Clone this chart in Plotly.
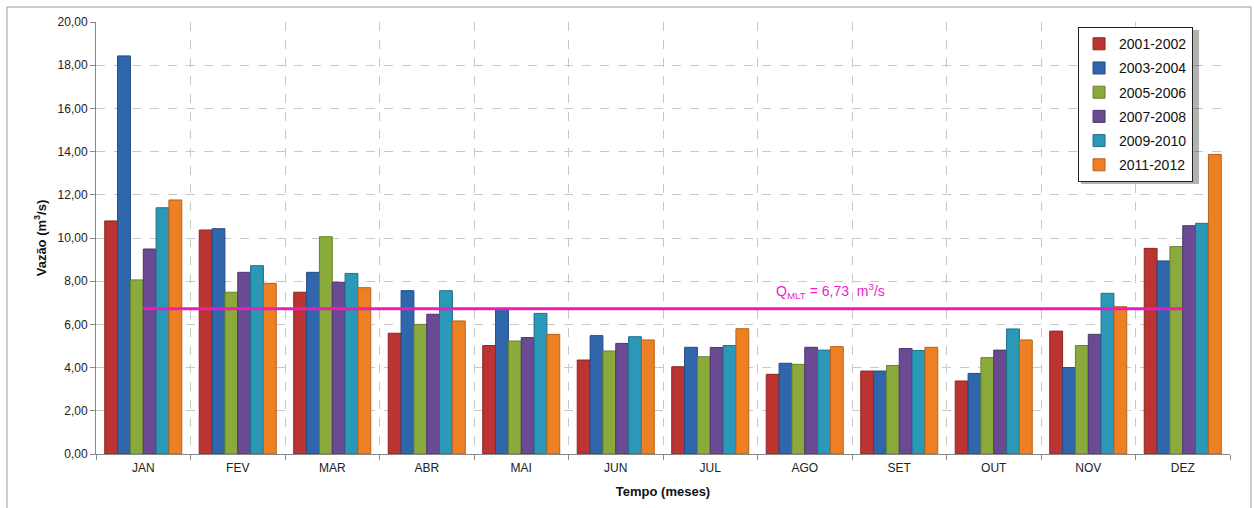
import plotly.graph_objects as go

months = ["JAN", "FEV", "MAR", "ABR", "MAI", "JUN", "JUL", "AGO", "SET", "OUT", "NOV", "DEZ"]
series_names = ["2001-2002", "2003-2004", "2005-2006", "2007-2008", "2009-2010", "2011-2012"]

v_2001_2002 = [10.79, 10.37, 7.49, 5.59, 5.02, 4.35, 4.04, 3.69, 3.84, 3.38, 5.69, 9.52]
v_2003_2004 = [18.43, 10.43, 8.41, 7.56, 6.70, 5.48, 4.94, 4.20, 3.84, 3.73, 4.00, 8.94]
v_2005_2006 = [8.06, 7.49, 10.06, 6.00, 5.23, 4.77, 4.50, 4.15, 4.10, 4.46, 5.02, 9.60]
v_2007_2008 = [9.49, 8.41, 7.95, 6.47, 5.39, 5.12, 4.93, 4.94, 4.88, 4.81, 5.54, 10.57]
v_2009_2010 = [11.40, 8.72, 8.36, 7.56, 6.51, 5.43, 5.02, 4.81, 4.79, 5.79, 7.44, 10.68]
v_2011_2012 = [11.76, 7.90, 7.70, 6.16, 5.54, 5.28, 5.80, 4.97, 4.94, 5.28, 6.82, 13.87]

q_mlt = 6.73
y_ticks = [0, 2, 4, 6, 8, 10, 12, 14, 16, 18, 20]

series_values = [v_2001_2002, v_2003_2004, v_2005_2006, v_2007_2008, v_2009_2010, v_2011_2012]
colors = ["#BC3432", "#2F66AC", "#8BAA3C", "#6A4A92", "#2A98B6", "#EE8024"]
line_colors = ["#8E2422", "#214C82", "#66822A", "#4E3570", "#1E7189", "#B8601A"]

FONT = "Liberation Sans, Arial, sans-serif"

fig = go.Figure()
for i, (name, vals) in enumerate(zip(series_names, series_values)):
    fig.add_trace(go.Bar(
        x=months, y=vals, name=name,
        marker=dict(color=colors[i], line=dict(color=line_colors[i], width=1)),
        legendgroup=name,
    ))

# mean line
fig.add_trace(go.Scatter(
    x=[months[0], months[-1]], y=[q_mlt, q_mlt], mode="lines",
    line=dict(color="#EC1CB8", width=3), showlegend=False, hoverinfo="skip",
))

fig.add_annotation(
    x=7.27, y=q_mlt, xref="x", yref="y", yanchor="bottom", yshift=6,
    text="Q<sub>MLT</sub> = 6,73  m<sup>3</sup>/s", showarrow=False,
    font=dict(family=FONT, size=14, color="#EE22CC"),
)

# outer chart border
fig.add_shape(type="rect", xref="paper", yref="paper",
              x0=-0.0785, x1=1.0185, y0=-0.2, y1=1.0347,
              line=dict(color="#999999", width=1), layer="below")

# legend shadow (offset behind the legend box)
fig.add_shape(type="rect", xref="paper", yref="paper",
              x0=0.8686, x1=0.9727, y0=0.6250, y1=0.9815,
              line=dict(width=0), fillcolor="rgba(0,0,0,0.30)", layer="above")

fig.update_layout(
    width=1254, height=508,
    margin=dict(l=96, r=24, t=22, b=54),
    paper_bgcolor="white", plot_bgcolor="white",
    separators=",.",
    barmode="group", bargap=0.185, bargroupgap=0,
    font=dict(family=FONT, size=12, color="#222222"),
    showlegend=True,
    legend=dict(
        x=0.866, y=0.988, xanchor="left", yanchor="top",
        bgcolor="white", bordercolor="#222222", borderwidth=1,
        font=dict(family=FONT, size=14, color="#111111"),
        tracegroupgap=3, traceorder="grouped",
    ),
    xaxis=dict(
        type="category", tickson="boundaries",
        showgrid=True, gridcolor="#C8C8C8", griddash="dash", gridwidth=1,
        showline=True, linecolor="#888888", linewidth=1,
        ticks="outside", ticklen=5, tickcolor="#888888",
        ticklabelstandoff=3,
        tickfont=dict(family=FONT, size=12, color="#222222"),
        title=dict(text="<b>Tempo (meses)</b>", font=dict(family=FONT, size=13, color="#111111"), standoff=12),
        range=[-0.5, 11.5],
    ),
    yaxis=dict(
        range=[0, 20], tickvals=y_ticks, tickformat=".2f",
        showgrid=True, gridcolor="#C8C8C8", griddash="dash", gridwidth=1,
        showline=True, linecolor="#888888", linewidth=1,
        ticks="outside", ticklen=5, tickcolor="#888888",
        tickfont=dict(family=FONT, size=12, color="#222222"),
        title=dict(text="<b>Vazão (m<sup>3</sup>/s)</b>", font=dict(family=FONT, size=13, color="#111111"), standoff=8),
        zeroline=False,
    ),
)

fig.write_html("out.html")
